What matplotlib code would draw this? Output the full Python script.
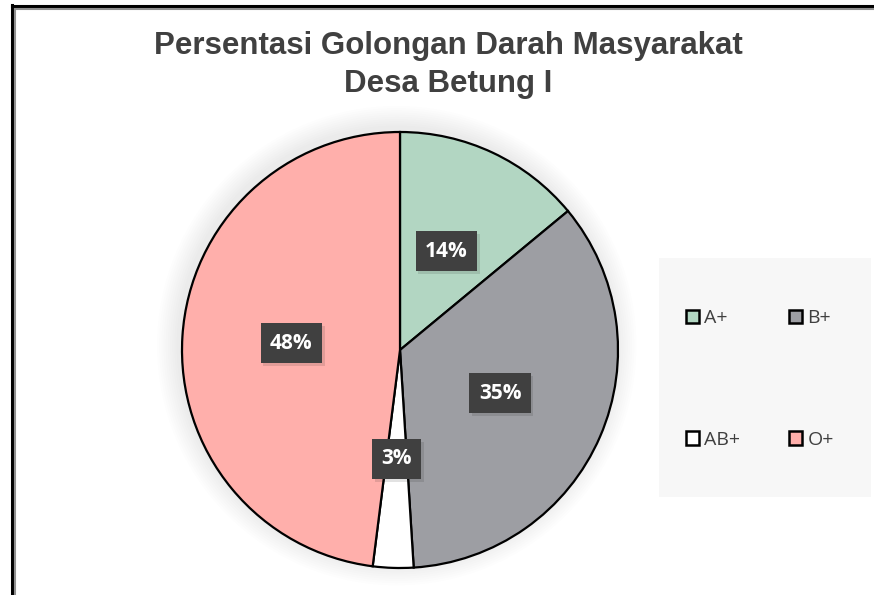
import matplotlib.pyplot as plt
from matplotlib.lines import Line2D
from matplotlib.patches import Rectangle, Circle
import matplotlib.patheffects as pe

title = 'Persentasi Golongan Darah Masyarakat\nDesa Betung I'
groups = ['A+', 'B+', 'AB+', 'O+']
percent = [14, 35, 3, 48]
colors = ['#b2d6c2', '#9d9ea3', '#ffffff', '#ffafab']

W, H = 874, 595
fig = plt.figure(figsize=(W / 100, H / 100), dpi=100)
fig.patch.set_facecolor('white')

# double frame on the left and top edges
fig.add_artist(Line2D([11.5 / W, 11.5 / W], [0, 1 - 5 / H], color='black', lw=2.2))
fig.add_artist(Line2D([15 / W, 15 / W], [0, 1 - 9 / H], color='#909090', lw=1.5))
fig.add_artist(Line2D([11.5 / W, 1], [1 - 6 / H, 1 - 6 / H], color='black', lw=2.2))
fig.add_artist(Line2D([15 / W, 1], [1 - 9 / H, 1 - 9 / H], color='#909090', lw=1.5))

fig.text(448 / W, 1 - 65 / H, title, ha='center', va='center', fontsize=22.5,
         fontweight='bold', color='#404040', family='Liberation Sans', linespacing=1.32)

# pie axes: centre (400, 350), radius 218 px
cx, cy, r = 400, 350, 218
ax = fig.add_axes([(cx - r) / W, (H - cy - r) / H, 2 * r / W, 2 * r / H])

# soft glow behind the pie
for i in range(10):
    ax.add_patch(Circle((-0.015, 0.02), 1.0 + 0.01 * (i + 1), color='black',
                        alpha=0.009, lw=0, zorder=0, clip_on=False))

wedges, texts, autotexts = ax.pie(
    percent, colors=colors, startangle=90, counterclock=False,
    autopct=lambda p: f'{p:.0f}%', pctdistance=0.5,
    wedgeprops=dict(edgecolor='black', linewidth=1.6),
    textprops=dict(color='white', fontsize=15, fontweight='bold', family='Open Sans'))
for t in autotexts:
    t.set_bbox(dict(boxstyle='square,pad=0.45', facecolor='#404040', edgecolor='none'))
    t.get_bbox_patch().set_path_effects([pe.SimplePatchShadow(offset=(2, -2), alpha=0.12),
                                         pe.Normal()])
ax.set_xlim(-1, 1)
ax.set_ylim(-1, 1)
ax.axis('off')

# legend panel
fig.add_artist(Rectangle((659 / W, 1 - 497 / H), 212 / W, 239 / H,
                         transform=fig.transFigure, facecolor='#f7f7f7', edgecolor='none'))
order = [0, 2, 1, 3]
leg = fig.legend([wedges[i] for i in order], [groups[i] for i in order], ncol=2,
                 loc='center left', bbox_to_anchor=(676 / W, 1 - 379 / H), frameon=False,
                 prop=dict(family='Open Sans', size=14), labelcolor='#404040',
                 handlelength=0.7, handleheight=0.7, handletextpad=0.25,
                 columnspacing=2.5, labelspacing=5.3, borderpad=0)
for h in leg.legend_handles:
    h.set_linewidth(1.8)

fig.savefig('out.png', dpi=100)
